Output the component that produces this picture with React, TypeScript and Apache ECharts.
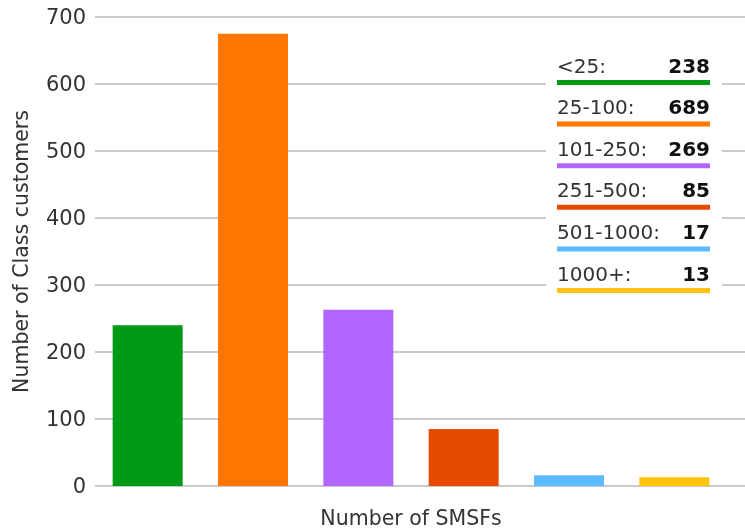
import React, { useEffect, useRef } from "react";
import * as echarts from "echarts";

const categories = ["<25:", "25-100:", "101-250:", "251-500:", "501-1000:", "1000+:"];
const barValues = [240, 675, 263, 85, 16, 13];
const legendValues = ["238", "689", "269", "85", "17", "13"];
const colors = ["#009a17", "#ff7700", "#b366ff", "#e64a00", "#5cbaff", "#ffc20e"];
const yTicks = { min: 0, max: 700, interval: 100 };

const FONT = "DejaVu Sans";

export default function App() {
  const ref = useRef<HTMLDivElement>(null);
  useEffect(() => {
    document.body.style.margin = "0";
    const chart = echarts.init(ref.current!, null, { renderer: "svg" });
    const legendX = 557;
    const legendRight = 710;
    const rowTop = 55.5;
    const rowStep = 41.6;
    const graphics: any[] = [
      {
        type: "rect",
        shape: { x: 546, y: 40, width: 176, height: 262 },
        style: { fill: "#ffffff" },
        z: 10,
      },
    ];
    categories.forEach((c, i) => {
      const y = rowTop + i * rowStep;
      graphics.push({
        type: "text",
        x: legendX,
        y: y,
        z: 11,
        style: { text: c, font: `20px '${FONT}'`, fill: "#333", textVerticalAlign: "top" },
      });
      graphics.push({
        type: "text",
        x: legendRight,
        y: y,
        z: 11,
        style: {
          text: legendValues[i],
          font: `bold 20px '${FONT}'`,
          fill: "#111",
          textAlign: "right",
          textVerticalAlign: "top",
        },
      });
      graphics.push({
        type: "rect",
        z: 11,
        shape: { x: legendX, y: y + 24.5, width: legendRight - legendX, height: 5 },
        style: { fill: colors[i] },
      });
    });

    chart.setOption({
      animation: false,
      grid: [
        { left: 95, right: 0, top: 17, bottom: 44, outerBoundsMode: "none", containLabel: false },
        { left: 95, right: 18, top: 17, bottom: 44, outerBoundsMode: "none", containLabel: false },
      ],
      xAxis: [
        {
          type: "value",
          gridIndex: 0,
          min: 0,
          max: 1,
          show: false,
        },
        {
          type: "category",
          gridIndex: 1,
          data: categories,
          axisLabel: { show: false },
          axisTick: { show: false },
          axisLine: { show: false },
          name: "Number of SMSFs",
          nameLocation: "middle",
          nameGap: 21,
          nameTextStyle: { fontFamily: FONT, fontSize: 20.5, color: "#333" },
        },
      ],
      yAxis: [
        {
          type: "value",
          gridIndex: 0,
          min: yTicks.min,
          max: yTicks.max,
          interval: yTicks.interval,
          axisLine: { show: false },
          axisTick: { show: false },
          axisLabel: { fontFamily: FONT, fontSize: 21, color: "#333", margin: 9 },
          splitLine: { lineStyle: { color: "#b9b9bd", width: 1.5 } },
          name: "Number of Class customers",
          nameLocation: "middle",
          nameGap: 64,
          nameTextStyle: { fontFamily: FONT, fontSize: 20.5, color: "#333" },
        },
        {
          type: "value",
          gridIndex: 1,
          min: yTicks.min,
          max: yTicks.max,
          interval: yTicks.interval,
          show: false,
          splitLine: { show: false },
        },
      ],
      series: [
        {
          type: "bar",
          xAxisIndex: 1,
          yAxisIndex: 1,
          barWidth: 70,
          data: barValues.map((v, i) => ({ value: v, itemStyle: { color: colors[i] } })),
        },
      ],
      graphic: graphics,
    });
    return () => chart.dispose();
  }, []);
  return <div ref={ref} style={{ position: "fixed", left: 0, top: 0, width: 745, height: 530 }} />;
}
